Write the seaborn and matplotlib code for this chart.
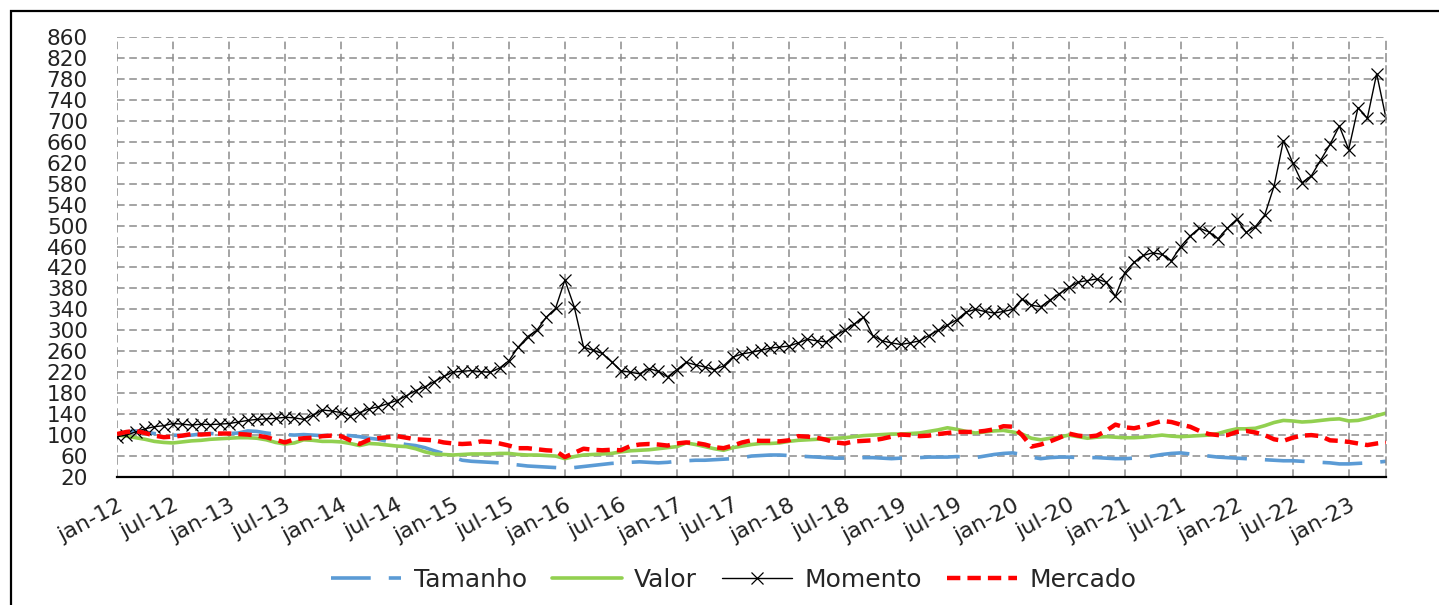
import numpy as np
import pandas as pd
import matplotlib
matplotlib.use('Agg')
import matplotlib.pyplot as plt
import seaborn as sns
from matplotlib.patches import Rectangle

# monthly values, jan-12 .. may-23
tamanho = [100, 106, 108, 106, 103, 101, 100, 99, 100, 102, 103, 102,
           103, 104, 108, 107, 104, 102, 101, 100, 101, 100, 99, 100,
           100, 99, 97, 94, 92, 88, 85, 82, 80, 76, 70, 65,
           58, 52, 50, 49, 48, 47, 45, 43, 41, 40, 39, 38,
           37, 38, 40, 42, 44, 46, 47, 48, 49, 48, 47, 48,
           50, 51, 52, 52, 53, 54, 55, 57, 60, 61, 62, 62,
           61, 60, 59, 58, 57, 56, 56, 56, 57, 57, 56, 55,
           56, 57, 57, 58, 58, 58, 59, 58, 57, 60, 63, 65,
           66, 63, 58, 55, 57, 58, 58, 57, 57, 57, 56, 55,
           55, 56, 57, 60, 63, 65, 66, 64, 62, 60, 58, 57,
           56, 55, 54, 53, 52, 51, 51, 50, 49, 48, 47, 45,
           45, 46, 47, 48, 50]

valor = [100, 98, 95, 92, 88, 86, 85, 87, 89, 90, 92, 93,
         94, 95, 95, 94, 91, 86, 83, 85, 91, 90, 88, 88,
         87, 84, 80, 84, 83, 81, 79, 78, 74, 68, 64, 63,
         62, 63, 64, 64, 64, 65, 65, 63, 62, 62, 61, 60,
         55, 59, 62, 63, 64, 65, 68, 70, 71, 72, 74, 76,
         78, 85, 82, 78, 74, 71, 76, 79, 82, 84, 84, 85,
         88, 90, 91, 92, 93, 94, 95, 97, 99, 100, 101, 102,
         102, 103, 104, 107, 110, 114, 111, 107, 104, 106, 108, 109,
         106, 102, 94, 91, 94, 96, 100, 97, 94, 96, 97, 96,
         95, 95, 96, 98, 100, 98, 97, 98, 99, 100, 103, 108,
         112, 112, 113, 118, 124, 128, 127, 125, 126, 128, 130, 131,
         127, 128, 132, 137, 142]

momento = [97, 100, 106, 112, 116, 118, 122, 121, 119, 121, 120, 121,
           122, 125, 128, 130, 131, 132, 134, 133, 130, 138, 148, 146,
           143, 137, 143, 150, 154, 160, 166, 175, 185, 192, 202, 212,
           220, 222, 223, 221, 220, 228, 242, 268, 288, 300, 325, 342,
           396, 345, 268, 262, 256, 240, 223, 220, 217, 227, 222, 211,
           225, 239, 234, 230, 225, 232, 249, 255, 258, 262, 266, 268,
           270, 276, 283, 280, 278, 290, 300, 312, 325, 290, 280, 276,
           273, 276, 280, 290, 300, 310, 320, 335, 340, 336, 333, 336,
           340, 360, 348, 345, 358, 370, 382, 392, 395, 398, 392, 365,
           410, 430, 443, 448, 445, 433, 460, 480, 495, 488, 475, 495,
           512, 487, 498, 520, 575, 662, 620, 582, 595, 625, 655, 690,
           645, 725, 705, 790, 705]

mercado = [102, 106, 108, 104, 99, 96, 97, 99, 102, 101, 102, 103,
           103, 102, 101, 99, 96, 91, 86, 92, 94, 95, 98, 99,
           98, 90, 83, 91, 94, 96, 98, 95, 92, 91, 90, 86,
           84, 83, 84, 88, 87, 84, 80, 75, 75, 73, 71, 70,
           58, 66, 74, 72, 71, 72, 71, 79, 82, 83, 82, 80,
           84, 86, 85, 82, 77, 75, 80, 86, 90, 89, 89, 88,
           90, 98, 97, 95, 91, 86, 84, 88, 89, 90, 93, 97,
           101, 100, 98, 99, 102, 104, 106, 106, 106, 108, 111, 117,
           116, 100, 78, 82, 88, 95, 103, 99, 97, 99, 108, 120,
           115, 113, 117, 122, 127, 125, 120, 116, 108, 102, 100, 100,
           106, 108, 105, 100, 92, 89, 95, 99, 100, 98, 90, 89,
           87, 84, 81, 84, 86]

tick_labels = ['jan-12', 'jul-12', 'jan-13', 'jul-13', 'jan-14', 'jul-14',
               'jan-15', 'jul-15', 'jan-16', 'jul-16', 'jan-17', 'jul-17',
               'jan-18', 'jul-18', 'jan-19', 'jul-19', 'jan-20', 'jul-20',
               'jan-21', 'jul-21', 'jan-22', 'jul-22', 'jan-23']

df = pd.DataFrame({'mes': np.arange(len(momento)), 'Tamanho': tamanho,
                   'Valor': valor, 'Momento': momento, 'Mercado': mercado})

sns.set_style('white')
plt.rcParams['font.family'] = ['DejaVu Sans']

fig = plt.figure(figsize=(14.39, 6.05), dpi=100)
ax = fig.add_axes([117/1439, 1 - 477/605, (1386-117)/1439, 440/605])

sns.lineplot(data=df, x='mes', y='Tamanho', ax=ax, color='#5B9BD5', lw=2.6,
             label='Tamanho').lines[-1].set_dashes((11, 5))
sns.lineplot(data=df, x='mes', y='Valor', ax=ax, color='#92D050', lw=2.6, label='Valor')
sns.lineplot(data=df, x='mes', y='Momento', ax=ax, color='black', lw=1.0, marker='x',
             markersize=9, markeredgewidth=0.9, markeredgecolor='black', label='Momento')
sns.lineplot(data=df, x='mes', y='Mercado', ax=ax, color='#FF0000', lw=3.2,
             label='Mercado').lines[-1].set_dashes((3, 1.6))

ax.set_xlim(0, len(momento) - 1)
ax.set_ylim(20, 860)
ax.set_yticks(np.arange(20, 861, 40))
ax.set_xticks(np.arange(0, 133, 6))
ax.set_xticklabels(tick_labels, rotation=28, ha='right', rotation_mode='anchor')
ax.tick_params(axis='y', length=0, pad=21, labelsize=15.5, labelcolor='#222222')
ax.tick_params(axis='x', length=0, pad=13, labelsize=16, labelcolor='#222222')
ax.set_xlabel('')
ax.set_ylabel('')
ax.grid(True, color='#8c8c8c', linestyle=(0, (5, 3)), lw=1.1)
for s in ['left', 'top']:
    ax.spines[s].set_visible(False)
ax.spines['right'].set_linestyle((0, (5, 3)))
ax.spines['right'].set_color('#8c8c8c')
ax.spines['right'].set_linewidth(1.1)
ax.spines['bottom'].set_color('black')
ax.spines['bottom'].set_linewidth(1.6)

ax.get_legend().remove()
h, lab = ax.get_legend_handles_labels()
fig.legend(h, lab, loc='center', bbox_to_anchor=(0.51, 0.041), ncol=4, frameon=False,
           fontsize=18, handlelength=2.8, columnspacing=1.0, handletextpad=0.5)

fig.patches.append(Rectangle((11/1439, -0.05), 1.2, 1.05 - 11/605, transform=fig.transFigure,
                             fill=False, lw=1.6, ec='black'))

fig.savefig('out.png', dpi=100)
